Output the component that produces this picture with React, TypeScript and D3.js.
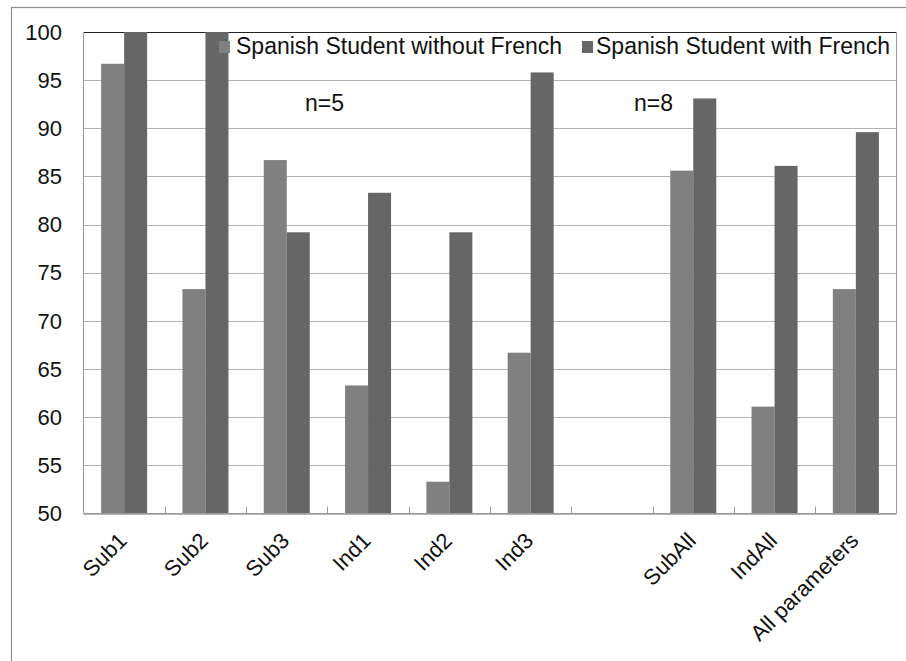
import React from "react";
import * as d3 from "d3";

const categories = ["Sub1", "Sub2", "Sub3", "Ind1", "Ind2", "Ind3", "", "SubAll", "IndAll", "All parameters"];
const seriesNames = ["Spanish Student without French", "Spanish Student with French"];
const withoutFrench: (number | null)[] = [96.7, 73.3, 86.7, 63.3, 53.3, 66.7, null, 85.6, 61.1, 73.3];
const withFrench: (number | null)[] = [100, 100, 79.2, 83.3, 79.2, 95.8, null, 93.1, 86.1, 89.6];
const yTicks = [50, 55, 60, 65, 70, 75, 80, 85, 90, 95, 100];
const notes = [
  { text: "n=5", x: 305, y: 111 },
  { text: "n=8", x: 634, y: 111 },
];

const W = 906;
const H = 661;
const plot = { left: 83.5, right: 896.5, top: 32, bottom: 513.5 };
const colors = ["#808080", "#666666"];
const font = "'Liberation Sans', Arial, sans-serif";

export default function App() {
  const x0 = d3.scaleBand<string>().domain(categories.map((_, i) => String(i))).range([plot.left, plot.right]).padding(0);
  const x1 = d3.scaleBand<string>().domain(["0", "1"]).range([0, x0.bandwidth()]).paddingInner(0).paddingOuter(0.767);
  const y = d3.scaleLinear().domain([50, 100]).range([plot.bottom, plot.top]);
  const series = [withoutFrench, withFrench];

  return (
    <svg width={W} height={H} style={{ position: "absolute", left: 0, top: 0, background: "#fff" }} fontFamily={font}>
      {/* outer chart frame */}
      <rect x={11.5} y={7.5} width={W + 10} height={H + 10} fill="#fff" stroke="#8c8c8c" strokeWidth={1.2} />
      {/* gridlines */}
      {yTicks.map((t) => (
        <line key={t} x1={plot.left} x2={plot.right} y1={Math.round(y(t)) + 0.5} y2={Math.round(y(t)) + 0.5}
          stroke={t === 100 ? "#222" : "#b3b3b3"} strokeWidth={1} />
      ))}
      {/* plot frame */}
      <line x1={plot.left} x2={plot.left} y1={plot.top} y2={plot.bottom} stroke="#9a9a9a" />
      <line x1={plot.right} x2={plot.right} y1={plot.top} y2={plot.bottom} stroke="#9a9a9a" />
      {/* bars */}
      {series.map((vals, s) =>
        vals.map((v, i) =>
          v == null ? null : (
            <rect key={`${s}-${i}`} x={(x0(String(i)) as number) + (x1(String(s)) as number)} y={y(v)}
              width={x1.bandwidth()} height={y(50) - y(v)} fill={colors[s]} />
          )
        )
      )}
      {/* x axis */}
      <line x1={plot.left} x2={plot.right} y1={plot.bottom} y2={plot.bottom} stroke="#9a9a9a" strokeWidth={1.2} />
      {categories.slice(1).map((_, i) => {
        const xx = Math.round(x0(String(i + 1)) as number) + 0.5;
        return <line key={i} x1={xx} x2={xx} y1={plot.bottom} y2={plot.bottom - 7} stroke="#9a9a9a" />;
      })}
      {/* y tick labels */}
      {yTicks.map((t) => (
        <text key={t} x={62} y={y(t)} dy="0.35em" textAnchor="end" fontSize={22} fill="#111">{t}</text>
      ))}
      {/* category labels */}
      {categories.map((c, i) => {
        const cx = (x0(String(i)) as number) + x0.bandwidth() / 2 + 4;
        const cy = 542;
        return c ? (
          <text key={i} transform={`translate(${cx},${cy}) rotate(-45)`} textAnchor="end" fontSize={22} fill="#111">{c}</text>
        ) : null;
      })}
      {/* legend */}
      <rect x={219} y={41} width={11} height={12} fill={colors[0]} />
      <text x={236} y={54} fontSize={23} fill="#111">{seriesNames[0]}</text>
      <rect x={582} y={41} width={11} height={12} fill={colors[1]} />
      <text x={596} y={54} fontSize={23} fill="#111">{seriesNames[1]}</text>
      {/* sample-size notes */}
      {notes.map((n) => (
        <text key={n.text} x={n.x} y={n.y} fontSize={23} fill="#111">{n.text}</text>
      ))}
    </svg>
  );
}
